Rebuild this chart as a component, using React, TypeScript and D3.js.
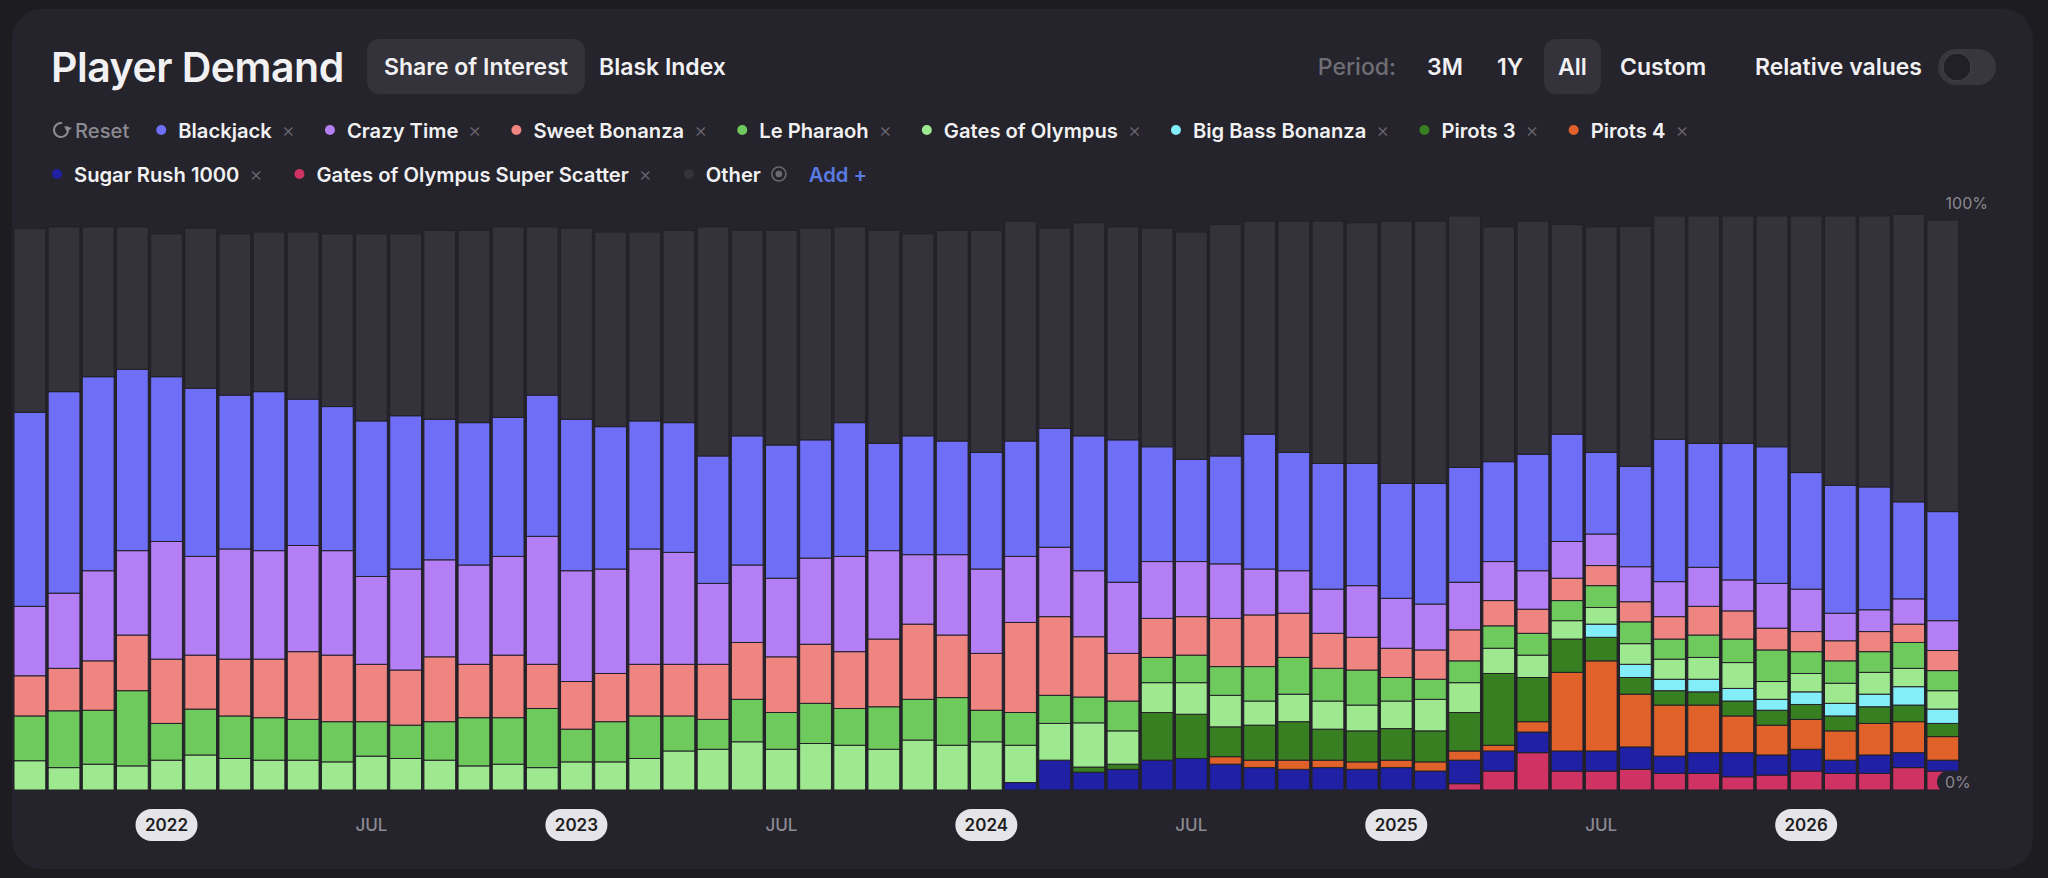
import * as d3 from "d3";
import { useEffect, useRef } from "react";

// months shown as bars, Sep 2021 .. May 2026
const months = [
  "2021-09", "2021-10", "2021-11", "2021-12",
  "2022-01", "2022-02", "2022-03", "2022-04", "2022-05", "2022-06", "2022-07", "2022-08", "2022-09", "2022-10", "2022-11", "2022-12",
  "2023-01", "2023-02", "2023-03", "2023-04", "2023-05", "2023-06", "2023-07", "2023-08", "2023-09", "2023-10", "2023-11", "2023-12",
  "2024-01", "2024-02", "2024-03", "2024-04", "2024-05", "2024-06", "2024-07", "2024-08", "2024-09", "2024-10", "2024-11", "2024-12",
  "2025-01", "2025-02", "2025-03", "2025-04", "2025-05", "2025-06", "2025-07", "2025-08", "2025-09", "2025-10", "2025-11", "2025-12",
  "2026-01", "2026-02", "2026-03", "2026-04", "2026-05",
];

const yearTicks = ["2022-01", "2023-01", "2024-01", "2025-01", "2026-01"];
const yearTickLabels = ["2022", "2023", "2024", "2025", "2026"];
const midTicks = ["2022-07", "2023-07", "2024-07", "2025-07"];
const midTickLabel = "JUL";

// share of interest, % (stack order bottom -> top)
const superScatter = [
  0, 0, 0, 0, 0, 0, 0, 0, 0, 0, 0, 0, 0, 0, 0, 0, 0, 0, 0, 0,
  0, 0, 0, 0, 0, 0, 0, 0, 0, 0, 0, 0, 0, 0, 0, 0, 0, 0, 0, 0,
  0, 0, 1.1, 3.3, 6.5, 3.3, 3.3, 3.6, 2.9, 2.9, 2.3, 2.6, 3.3, 2.9, 2.9, 3.9, 3.3,
];
const sugarRush = [
  0, 0, 0, 0, 0, 0, 0, 0, 0, 0, 0, 0, 0, 0, 0, 0, 0, 0, 0, 0,
  0, 0, 0, 0, 0, 0, 0, 0, 0, 1.3, 5.2, 3.1, 3.6, 5.2, 5.5, 4.5, 3.9, 3.6, 3.9, 3.6,
  3.9, 3.3, 4.1, 3.5, 3.6, 3.5, 3.5, 3.9, 3.0, 3.6, 4.2, 3.5, 3.8, 2.3, 3.2, 2.6, 1.9,
];
const pirots4 = [
  0, 0, 0, 0, 0, 0, 0, 0, 0, 0, 0, 0, 0, 0, 0, 0, 0, 0, 0, 0,
  0, 0, 0, 0, 0, 0, 0, 0, 0, 0, 0, 0, 0, 0, 0, 1.3, 1.3, 1.6, 1.3, 1.3,
  1.3, 1.6, 1.6, 1.0, 1.8, 13.7, 15.7, 9.2, 8.9, 8.3, 6.4, 5.2, 5.2, 5.1, 5.5, 5.4, 4.1,
];
const pirots3 = [
  0, 0, 0, 0, 0, 0, 0, 0, 0, 0, 0, 0, 0, 0, 0, 0, 0, 0, 0, 0,
  0, 0, 0, 0, 0, 0, 0, 0, 0, 0, 0, 0.9, 0.9, 8.3, 7.7, 5.2, 6.1, 6.7, 5.4, 5.4,
  5.5, 5.4, 6.7, 12.5, 7.7, 5.8, 4.1, 2.9, 2.5, 2.3, 2.6, 2.6, 2.6, 2.6, 2.9, 2.9, 2.3,
];
const bigBass = [
  0, 0, 0, 0, 0, 0, 0, 0, 0, 0, 0, 0, 0, 0, 0, 0, 0, 0, 0, 0,
  0, 0, 0, 0, 0, 0, 0, 0, 0, 0, 0, 0, 0, 0, 0, 0, 0, 0, 0, 0,
  0, 0, 0, 0, 0, 0, 2.3, 2.3, 2.0, 2.2, 2.2, 1.9, 2.2, 2.2, 2.2, 3.2, 2.5,
];
const gatesOfOlympus = [
  5.1, 3.9, 4.5, 4.2, 5.2, 6.1, 5.5, 5.2, 5.2, 4.9, 5.9, 5.5, 5.2, 4.2, 4.5, 3.9, 4.9, 4.9, 5.5, 6.8,
  7.1, 8.4, 7.1, 8.1, 7.8, 7.1, 8.7, 7.8, 8.4, 6.5, 6.4, 7.7, 5.8, 5.2, 5.5, 5.5, 4.2, 4.8, 4.9, 4.5,
  4.8, 5.5, 5.2, 4.4, 3.9, 3.2, 2.9, 3.6, 3.5, 3.8, 4.5, 3.1, 3.2, 3.5, 3.8, 3.2, 3.2,
];
const lePharaoh = [
  7.8, 9.9, 9.4, 13.1, 6.4, 8.0, 7.4, 7.4, 7.1, 7.0, 6.0, 5.8, 6.7, 8.4, 8.1, 10.3, 5.7, 7.0, 7.4, 6.1,
  5.2, 7.4, 6.4, 7.0, 6.4, 7.4, 7.1, 8.3, 5.5, 5.7, 4.9, 4.5, 5.2, 4.4, 4.8, 5.0, 6.0, 6.4, 5.7, 6.1,
  4.1, 3.5, 3.8, 3.9, 3.8, 3.5, 3.8, 3.8, 3.5, 3.9, 4.1, 5.5, 3.8, 3.9, 3.6, 4.5, 3.5,
];
const sweetBonanza = [
  7.0, 7.4, 8.6, 9.7, 11.2, 9.4, 9.9, 10.2, 11.8, 11.6, 10.0, 9.6, 11.3, 9.3, 10.9, 7.7, 8.3, 8.4, 9.0, 9.0,
  9.6, 9.9, 9.7, 10.3, 9.9, 11.8, 13.1, 10.9, 9.9, 15.7, 13.7, 10.5, 8.3, 6.8, 6.7, 8.4, 9.0, 7.7, 6.1, 5.7,
  5.1, 5.1, 5.4, 4.4, 4.2, 3.9, 3.5, 3.5, 3.9, 5.0, 4.9, 3.8, 3.5, 3.5, 3.5, 3.2, 3.5,
];
const crazyTime = [
  12.1, 13.1, 15.7, 14.7, 20.5, 17.2, 19.2, 18.9, 18.5, 18.2, 15.3, 17.6, 16.9, 17.3, 17.2, 22.3, 19.3, 18.2, 20.1, 19.5,
  14.1, 13.5, 13.7, 15.0, 16.6, 15.4, 12.1, 14.0, 14.7, 11.5, 12.1, 11.5, 12.4, 9.9, 9.6, 9.5, 8.0, 7.4, 7.7, 9.0,
  8.7, 8.0, 8.3, 6.8, 6.7, 6.4, 5.5, 6.1, 6.1, 6.8, 5.4, 7.8, 7.4, 4.8, 3.8, 4.4, 5.2,
];
const blackjack = [
  33.8, 35.1, 33.8, 31.6, 28.7, 29.3, 26.8, 27.7, 25.5, 25.1, 27.1, 26.7, 24.5, 24.8, 24.2, 24.6, 26.4, 24.8, 22.3, 22.6,
  22.2, 22.5, 23.2, 20.6, 23.3, 18.7, 20.7, 19.8, 20.3, 20.1, 20.7, 23.5, 24.8, 20.0, 17.8, 18.8, 23.5, 20.6, 21.9, 21.3,
  20.0, 21.0, 20.0, 17.4, 20.3, 18.7, 14.2, 17.5, 24.8, 21.6, 23.8, 23.8, 20.3, 22.3, 21.4, 16.9, 19.0,
];
const other = [
  32.0, 28.7, 26.1, 24.8, 24.9, 27.9, 28.1, 27.8, 29.1, 30.1, 32.6, 31.7, 32.9, 33.5, 33.2, 29.3, 33.3, 33.9, 32.9, 33.5,
  39.9, 35.8, 37.4, 36.9, 34.1, 37.1, 35.2, 36.7, 38.7, 38.3, 34.9, 37.1, 37.1, 38.1, 39.6, 40.3, 37.1, 40.3, 42.2, 41.9,
  45.7, 45.7, 43.8, 40.9, 40.6, 36.5, 39.3, 41.8, 38.9, 39.6, 39.6, 40.2, 44.7, 46.9, 47.2, 50.1, 50.8,
];

const seriesValues: Record<string, number[]> = {
  superScatter, sugarRush, pirots4, pirots3, bigBass, gatesOfOlympus,
  lePharaoh, sweetBonanza, crazyTime, blackjack, other,
};
const stackKeys = Object.keys(seriesValues);

const seriesNames: Record<string, string> = {
  blackjack: "Blackjack",
  crazyTime: "Crazy Time",
  sweetBonanza: "Sweet Bonanza",
  lePharaoh: "Le Pharaoh",
  gatesOfOlympus: "Gates of Olympus",
  bigBass: "Big Bass Bonanza",
  pirots3: "Pirots 3",
  pirots4: "Pirots 4",
  sugarRush: "Sugar Rush 1000",
  superScatter: "Gates of Olympus Super Scatter",
  other: "Other",
};
const legendRow1 = ["blackjack", "crazyTime", "sweetBonanza", "lePharaoh", "gatesOfOlympus", "bigBass", "pirots3", "pirots4"];
const legendRow2 = ["sugarRush", "superScatter"];

const colors: Record<string, string> = {
  blackjack: "#6e6ef6",
  crazyTime: "#b47ff5",
  sweetBonanza: "#ef8581",
  lePharaoh: "#6fca5e",
  gatesOfOlympus: "#9ee98f",
  bigBass: "#83eef8",
  pirots3: "#387f22",
  pirots4: "#e06129",
  sugarRush: "#2020a4",
  superScatter: "#cf3363",
  other: "#34323a",
};

const W = 2048;
const H = 878;
const FONT = "Inter, 'Noto Sans', sans-serif";
const CARD = "#25232b";

export default function App() {
  const svgRef = useRef<SVGSVGElement | null>(null);

  useEffect(() => {
    const svg = d3.select(svgRef.current).html("");
    svg.attr("font-family", FONT);

    svg.append("rect").attr("width", W).attr("height", H).attr("fill", "#1d1c21");
    svg.append("rect")
      .attr("x", 12).attr("y", 9).attr("width", 2021).attr("height", 860)
      .attr("rx", 30).attr("fill", CARD);

    // header
    svg.append("text").attr("x", 51).attr("y", 82)
      .attr("font-size", 41).attr("font-weight", 600).attr("fill", "#f1f1f3")
      .attr("letter-spacing", -0.5)
      .text("Player Demand");

    svg.append("rect").attr("x", 367).attr("y", 39).attr("width", 218).attr("height", 55)
      .attr("rx", 12).attr("fill", "#34323a");
    svg.append("rect").attr("x", 1544).attr("y", 39).attr("width", 57).attr("height", 55)
      .attr("rx", 12).attr("fill", "#34323a");
    const head = svg.append("g").attr("font-size", 23).attr("font-weight", 600).attr("fill", "#f1f1f3");
    head.append("text").attr("x", 476).attr("y", 75).attr("text-anchor", "middle").text("Share of Interest");
    head.append("text").attr("x", 599).attr("y", 75).text("Blask Index");
    head.append("text").attr("x", 1396).attr("y", 75).attr("text-anchor", "end")
      .attr("fill", "#6f6d75").attr("font-weight", 500).text("Period:");
    head.append("text").attr("x", 1427).attr("y", 75).text("3M");
    head.append("text").attr("x", 1497).attr("y", 75).text("1Y");
    head.append("text").attr("x", 1572.5).attr("y", 75).attr("text-anchor", "middle").text("All");
    head.append("text").attr("x", 1620).attr("y", 75).text("Custom");
    head.append("text").attr("x", 1922).attr("y", 75).attr("text-anchor", "end").text("Relative values");

    svg.append("rect").attr("x", 1938).attr("y", 49).attr("width", 58).attr("height", 36)
      .attr("rx", 18).attr("fill", "#38363e");
    svg.append("circle").attr("cx", 1957).attr("cy", 67).attr("r", 14)
      .attr("fill", "#222027").attr("stroke", "#45434b").attr("stroke-width", 1);

    // legend
    const leg = svg.append("g").attr("font-size", 20.2).attr("font-weight", 600);
    const row1Y = 130;
    const row2Y = 174;

    const resetArc = d3.arc()({ innerRadius: 6, outerRadius: 8, startAngle: 1.0, endAngle: Math.PI * 2 + 0.15 } as any);
    leg.append("path").attr("d", resetArc as string)
      .attr("transform", `translate(61,${row1Y})`).attr("fill", "#8c8a92");
    leg.append("path").attr("d", "M0,-4 L5,0 L0,4 Z")
      .attr("transform", `translate(68,${row1Y - 3}) rotate(100)`).attr("fill", "#8c8a92");
    const resetText = leg.append("text").attr("x", 75).attr("y", row1Y)
      .attr("dominant-baseline", "central").attr("fill", "#8c8a92").attr("font-weight", 500)
      .text("Reset");

    const measure = (sel: d3.Selection<SVGTextElement, unknown, null, undefined>) =>
      (sel.node() as SVGTextElement).getComputedTextLength();

    const drawItem = (key: string, cx: number, cy: number, withClose: boolean) => {
      leg.append("circle").attr("cx", cx).attr("cy", cy).attr("r", 5).attr("fill", colors[key]);
      const t = leg.append("text").attr("x", cx + 17).attr("y", cy)
        .attr("dominant-baseline", "central").attr("fill", "#f1f1f3").text(seriesNames[key]);
      const end = cx + 17 + measure(t);
      if (!withClose) return end;
      const x = leg.append("text").attr("x", end + 10).attr("y", cy)
        .attr("dominant-baseline", "central").attr("font-size", 20).attr("font-weight", 300)
        .attr("fill", "#6a6870").text("×");
      return end + 10 + measure(x);
    };

    let cursor = 75 + measure(resetText) + 32;
    legendRow1.forEach((k) => {
      cursor = drawItem(k, cursor, row1Y, true) + 35;
    });
    cursor = 57;
    legendRow2.forEach((k) => {
      cursor = drawItem(k, cursor, row2Y, true) + 37;
    });
    const otherEnd = drawItem("other", cursor, row2Y, false);
    const eye = leg.append("g").attr("transform", `translate(${otherEnd + 18},${row2Y})`)
      .attr("fill", "none").attr("stroke", "#6a6870").attr("stroke-width", 1.6);
    eye.append("circle").attr("r", 7);
    eye.append("circle").attr("r", 2.5).attr("fill", "#6a6870");
    leg.append("text").attr("x", otherEnd + 48).attr("y", row2Y)
      .attr("dominant-baseline", "central").attr("fill", "#5a7be3").text("Add +");

    // chart
    const rows = months.map((m, i) => {
      const r: Record<string, any> = { month: m };
      stackKeys.forEach((k) => (r[k] = seriesValues[k][i]));
      return r;
    });
    const stacked = d3.stack<Record<string, any>>().keys(stackKeys)(rows);

    const x = d3.scaleBand<string>()
      .domain(months)
      .range([12.8, 1959.9])
      .paddingInner(0.07)
      .paddingOuter(0.035);
    const y = d3.scaleLinear().domain([0, 100]).range([790, 216]);

    const plot = svg.append("g");
    stacked.forEach((layer) => {
      plot.append("g")
        .attr("fill", colors[layer.key])
        .selectAll("rect")
        .data(layer.filter((d) => d[1] - d[0] > 0))
        .join("rect")
        .attr("x", (d) => x(d.data.month)!)
        .attr("y", (d) => y(d[1]))
        .attr("width", x.bandwidth())
        .attr("height", (d) => y(d[0]) - y(d[1]))
        .attr("stroke", "#222027")
        .attr("stroke-width", 1);
    });

    // y labels
    svg.append("text").attr("x", 1988).attr("y", 209).attr("text-anchor", "end")
      .attr("font-size", 16).attr("fill", "#8a8890").text("100%");
    svg.append("rect").attr("x", 1937).attr("y", 771).attr("width", 36).attr("height", 22)
      .attr("rx", 11).attr("fill", CARD);
    svg.append("text").attr("x", 1945).attr("y", 788)
      .attr("font-size", 16).attr("fill", "#8a8890").text("0%");

    // x labels
    const axis = svg.append("g").attr("font-size", 17);
    yearTicks.forEach((m, i) => {
      const cx = x(m)! + x.bandwidth() / 2;
      axis.append("rect").attr("x", cx - 31).attr("y", 809).attr("width", 62).attr("height", 32)
        .attr("rx", 16).attr("fill", "#e5e5e9");
      axis.append("text").attr("x", cx).attr("y", 825).attr("text-anchor", "middle")
        .attr("dominant-baseline", "central").attr("font-weight", 600).attr("fill", "#1d1c21")
        .text(yearTickLabels[i]);
    });
    midTicks.forEach((m) => {
      const cx = x(m)! + x.bandwidth() / 2;
      axis.append("text").attr("x", cx).attr("y", 825).attr("text-anchor", "middle")
        .attr("dominant-baseline", "central").attr("font-weight", 500).attr("fill", "#8c8a92")
        .text(midTickLabel);
    });
  }, []);

  return (
    <svg
      ref={svgRef}
      width={W}
      height={H}
      style={{ position: "fixed", left: 0, top: 0, display: "block" }}
    />
  );
}
